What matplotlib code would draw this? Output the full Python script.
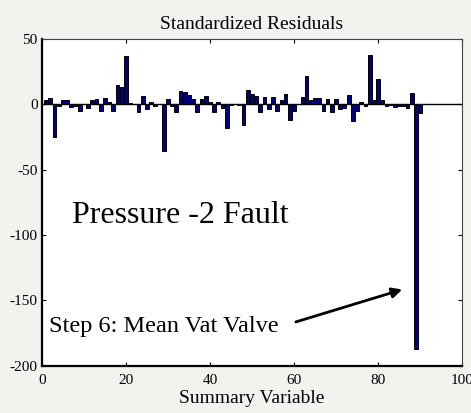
import numpy as np
import matplotlib
matplotlib.use('Agg')
import matplotlib.pyplot as plt

# summary variable index and its standardized residual
variabel = np.arange(1, 91)
residu = [3, 5, -25, -1, 3, 3, -2, -1.5, -5, 0.5,
          -2.5, 3, 4, -5, 5, 2, -5, 15, 13.5, 37,
          1, 0.3, -6, 6, -4, 2, -1.5, 0.3, -36, 4,
          -1, -6, 10, 9, 7, 4.3, -6, 4.3, 6, 2,
          -6, 1.5, -3, -18, -0.5, 0.3, -0.5, -16, 11, 8,
          6, -6, 5.4, -4, 5.4, -5, 3, 8, -12, -5,
          0.3, 5.4, 21.7, 3, 5, 5, -5, 4, -6, 4,
          -4, -2.5, 7, -13, -5, 1.5, -1.5, 37.7, 3.5, 19,
          3.5, -1.5, -0.5, -2, -1.5, -1.5, -2.5, 8.7, -187, -6.4]

xticks = [0, 20, 40, 60, 80, 100]
yticks = [-200, -150, -100, -50, 0, 50]

plt.rcParams['font.family'] = ['Liberation Serif', 'DejaVu Serif']
plt.rcParams['axes.unicode_minus'] = False  # pakai tanda hubung biasa

fig = plt.figure(figsize=(4.71, 4.13), dpi=100, facecolor='#f3f2ee')
ax = fig.add_axes([0.089, 0.114, 0.892, 0.792])
ax.set_facecolor('white')

ax.bar(variabel, residu, width=0.9, color='#000080', edgecolor='black', linewidth=0.7)
ax.axhline(0, color='black', linewidth=1.0)

ax.set_xlim(0, 100)
ax.set_ylim(-200, 50)
ax.set_xticks(xticks)
ax.set_yticks(yticks)
ax.tick_params(direction='in', top=True, right=True, length=3, labelsize=11)
ax.tick_params(axis='x', pad=6)
ax.tick_params(axis='y', pad=3)

ax.spines['left'].set_linewidth(1.6)
ax.spines['bottom'].set_linewidth(1.6)
for s in ['top', 'right']:
    ax.spines[s].set_linewidth(0.8)
    ax.spines[s].set_color('#444444')

ax.set_title('Standardized Residuals', fontsize=14, pad=7)
ax.set_xlabel('Summary Variable', fontsize=14, labelpad=2)

ax.text(7.1, -90.6, 'Pressure -2 Fault', fontsize=23, va='baseline', ha='left')
ax.text(1.7, -170, 'Step 6: Mean Vat Valve', fontsize=17.5, va='center', ha='left')
ax.annotate('', xy=(86.4, -141), xytext=(59.8, -167),
            arrowprops=dict(arrowstyle='-|>', color='black', lw=2, mutation_scale=15))

fig.savefig('out.png', dpi=100, facecolor=fig.get_facecolor())
